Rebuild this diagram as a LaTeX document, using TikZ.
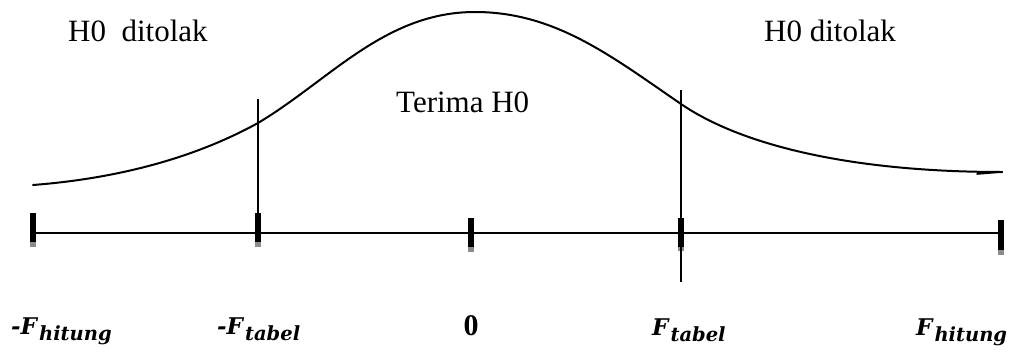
\documentclass[tikz,border=0pt]{standalone}
\usepackage{fontspec}
\setmainfont{Liberation Serif}
\newfontfamily\dvserif{DejaVu Serif}
\newcommand{\Flab}[2]{{\dvserif\bfseries\itshape\fontsize{23}{26}\selectfont#1F\kern2pt\raisebox{-6pt}{\fontsize{19.5}{22}\selectfont#2}}}
\begin{document}
\begin{tikzpicture}[x=1pt,y=-1pt,
  bigtext/.style={inner sep=0pt,anchor=base west,font=\fontsize{31}{36}\selectfont},
  axlabel/.style={inner sep=0pt,anchor=base west},
  axisline/.style={line width=1.7pt},
  guide/.style={line width=1.3pt},
  curveline/.style={line width=2pt,line join=round,line cap=round},
  tickbar/.style={fill=black},
  tickshadow/.style={fill=black!45}]
\useasboundingbox (0,0) rectangle (1018,351);

% axis
\coordinate (axL) at (33,233);
\coordinate (axR) at (1001,233);
\draw[axisline] (axL) -- (axR);

% ticks: x, top, bottom of black part, bottom of shadow
\foreach \x/\t/\b/\s in {33/213/242/247, 258/213/242/247, 471/218/247/252, 681/218/247/251, 1001/220/250/255}{
  \fill[tickbar] (\x-2.7,\t) rectangle (\x+2.7,\b);
  \fill[tickshadow] (\x-2.7,\b) rectangle (\x+2.7,\s);
}

% guide lines
\coordinate (gLt) at (258,99);
\coordinate (gLb) at (258,233);
\coordinate (gRt) at (681,90);
\coordinate (gRb) at (681,282);
\draw[guide] (gLt) -- (gLb);
\draw[guide] (gRt) -- (gRb);

% curve
\coordinate (cStart) at (33,185);
\coordinate (cA) at (258,123);
\coordinate (cPeak) at (475,12);
\coordinate (cB) at (681,104);
\coordinate (cEnd) at (1002,172);
\coordinate (cHook) at (977,174);
\draw[curveline] (cStart) .. controls (123,178) and (198,156) .. (cA)
  .. controls (330,80) and (385,12) .. (cPeak)
  .. controls (555,12) and (611,56) .. (cB)
  .. controls (741,145) and (850,172) .. (cEnd);
\draw[line width=1.6pt,line cap=round] (cEnd) -- (cHook);

% texts
\node[bigtext] (rejL) at (68,41) {H0\ \ ditolak};
\node[bigtext] (rejR) at (764,41) {H0 ditolak};
\node[bigtext] (acc) at (396,112) {Terima H0};

\node[axlabel] (l1) at (11,334) {\Flab{-}{hitung}};
\node[axlabel] (l2) at (217,334) {\Flab{-}{tabel}};
\node[inner sep=0pt,anchor=base,font=\fontsize{30}{34}\selectfont\bfseries] (l3) at (471,335) {0};
\node[axlabel] (l4) at (652,335) {\Flab{}{tabel}};
\node[axlabel] (l5) at (916,335) {\Flab{}{hitung}};
\end{tikzpicture}
\end{document}
